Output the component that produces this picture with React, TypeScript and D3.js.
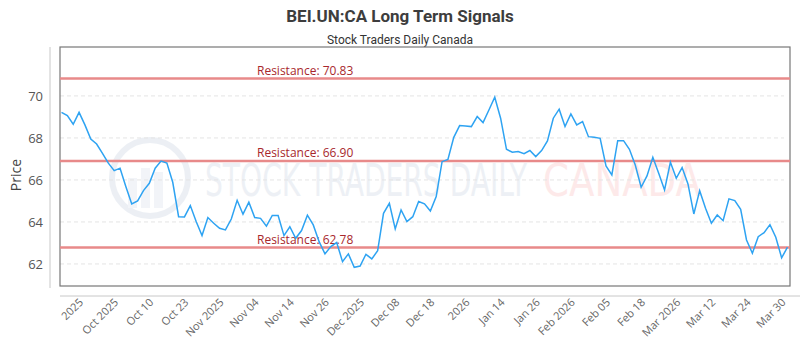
import React from "react";
import * as d3 from "d3";

// closing prices, one per trading day
const prices = [
  69.22, 69.06, 68.65, 69.22, 68.62, 67.95, 67.71, 67.27, 66.8, 66.44,
  66.56, 65.68, 64.86, 65.0, 65.49, 65.84, 66.56, 66.9, 66.8, 65.89,
  64.25, 64.24, 64.78, 64.02, 63.35, 64.21, 63.94, 63.7, 63.62, 64.14,
  65.03, 64.37, 64.94, 64.21, 64.17, 63.8, 64.31, 64.31, 63.35, 63.77,
  63.22, 63.59, 64.32, 63.86, 63.06, 62.48, 62.83, 63.02, 62.11, 62.48,
  61.84, 61.9, 62.46, 62.24, 62.63, 64.41, 64.89, 63.67, 64.57, 64.02,
  64.25, 64.97, 64.86, 64.52, 65.21, 66.87, 66.98, 68.03, 68.59, 68.57,
  68.54, 69.02, 68.73, 69.33, 69.94, 68.94, 67.46, 67.32, 67.35, 67.25,
  67.4, 67.11, 67.4, 67.86, 68.94, 69.37, 68.54, 69.14, 68.62, 68.78,
  68.06, 68.03, 67.98, 66.67, 66.24, 67.87, 67.87, 67.46, 66.71, 65.65,
  66.19, 67.08, 66.32, 65.52, 66.84, 66.08, 66.59, 65.81, 64.38, 65.49,
  64.65, 63.94, 64.33, 64.06, 65.1, 65.02, 64.6, 63.14, 62.51, 63.3,
  63.49, 63.87, 63.27, 62.29, 62.8,
];

const tickLabels = [
  "2025", "Oct 2025", "Oct 10", "Oct 23", "Nov 2025", "Nov 04", "Nov 14",
  "Nov 26", "Dec 2025", "Dec 08", "Dec 18", "2026", "Jan 14", "Jan 26",
  "Feb 2026", "Feb 05", "Feb 18", "Mar 2026", "Mar 12", "Mar 24", "Mar 30",
];
// index of the point each label sits under
const tickIndex = tickLabels.map((_, i) => 4 + i * 6);

const resistance = [70.83, 66.9, 62.78];
const yTicks = [62, 64, 66, 68, 70];

const W = 800;
const H = 350;
const left = 60, right = 790, top = 47, bottom = 286;

export default function App() {
  const x = d3.scaleLinear().domain([0, prices.length - 1]).range([left + 1.5, right - 2.5]);
  const y = d3.scaleLinear().domain([60.95, 72.33]).range([bottom, top]);

  const line = d3
    .line<number>()
    .x((d, i) => x(i))
    .y(d => y(d));

  return (
    <svg width={W} height={H} style={{ display: "block", position: "absolute", left: 0, top: 0 }}>
      <rect width={W} height={H} fill="#fff" />

      {/* titles */}
      <text x={400} y={22} textAnchor="middle" fontFamily="Roboto, sans-serif" fontWeight="bold" fontSize={17} fill="#3d3d3d">
        BEI.UN:CA Long Term Signals
      </text>
      <text x={400} y={44} textAnchor="middle" fontFamily="Roboto, sans-serif" fontSize={12} fill="#333">
        Stock Traders Daily Canada
      </text>

      {/* watermark */}
      <g opacity={0.4}>
        <circle cx={150} cy={178} r={38} fill="none" stroke="#d0d9e6" strokeWidth={6} />
        <rect x={128} y={178} width={9} height={30} fill="#dfe6ef" />
        <rect x={141} y={168} width={9} height={40} fill="#dfe6ef" />
        <rect x={154} y={172} width={9} height={36} fill="#dfe6ef" />
        <text x={205} y={196} fontFamily="'DejaVu Sans Condensed', 'DejaVu Sans', sans-serif" fontSize={44}
          textLength={322} lengthAdjust="spacingAndGlyphs" fill="#d3dce8">
          STOCK TRADERS DAILY
        </text>
        <text x={543} y={196} fontFamily="'DejaVu Sans', sans-serif" fontSize={44}
          textLength={158} lengthAdjust="spacingAndGlyphs" fill="#fccaca">
          CANADA
        </text>
      </g>

      {/* grid */}
      {yTicks.map(t => (
        <line key={t} x1={left} x2={right - 6} y1={y(t)} y2={y(t)} stroke="#e4e4e4" strokeDasharray="4,3" />
      ))}

      {/* frames */}
      <line x1={50} x2={50} y1={top} y2={bottom + 2} stroke="#c8c8c8" />
      <line x1={left} x2={W} y1={296} y2={296} stroke="#c8c8c8" />
      <rect x={left} y={top} width={right - left} height={bottom - top} fill="none" stroke="#777" strokeWidth={1.2} />

      {/* y axis */}
      {yTicks.map(t => (
        <text key={t} x={43} y={y(t) + 5} textAnchor="end" fontFamily="'Open Sans', sans-serif" fontSize={13} fill="#555">
          {t}
        </text>
      ))}
      <text transform="translate(21,175) rotate(-90)" textAnchor="middle" fontFamily="'Open Sans', sans-serif" fontSize={14} fill="#444">
        Price
      </text>

      {/* resistance */}
      {resistance.map(r => (
        <g key={r}>
          <line x1={left} x2={right} y1={y(r)} y2={y(r)} stroke="#e88a8a" strokeWidth={2.5} />
          <text x={257} y={y(r) - 4} fontFamily="'Open Sans', sans-serif" fontSize={12} fill="#a8282c">
            {`Resistance: ${r.toFixed(2)}`}
          </text>
        </g>
      ))}

      {/* price line */}
      <path d={line(prices) || ""} fill="none" stroke="#2ea3f2" strokeWidth={1.5} />

      {/* x axis labels */}
      {tickLabels.map((lab, i) => (
        <text key={lab} transform={`translate(${x(tickIndex[i]) - 1},${303}) rotate(-45)`} textAnchor="end"
          fontFamily="'Open Sans', sans-serif" fontSize={11} fill="#666">
          {lab}
        </text>
      ))}
    </svg>
  );
}
